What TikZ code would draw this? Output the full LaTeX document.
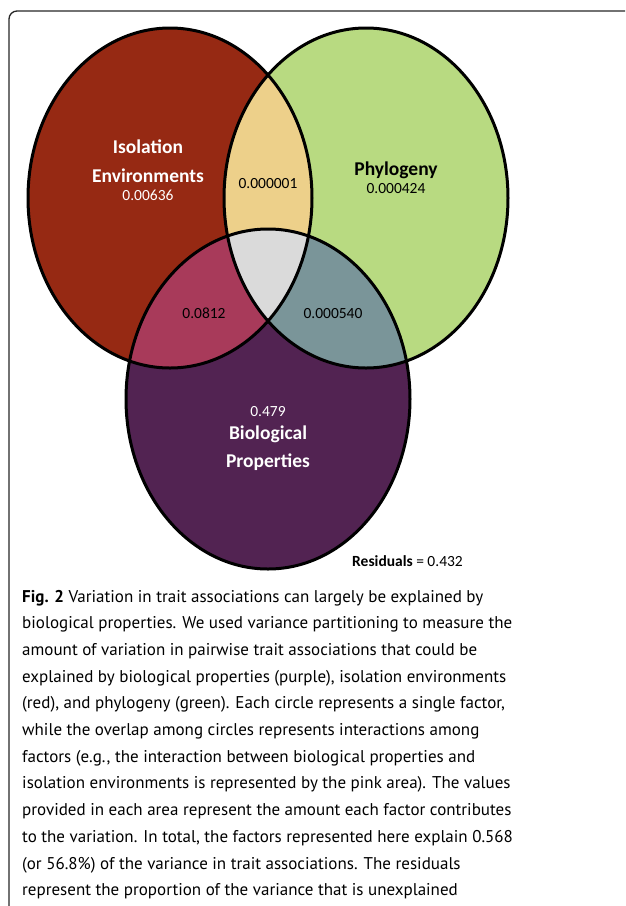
\documentclass[tikz,border=0pt]{standalone}
\usepackage{fontspec}
\setmainfont{Carlito}
\newfontfamily\capfont{PT Sans}
\usetikzlibrary{positioning}

\definecolor{isored}{RGB}{150,41,19}
\definecolor{phygreen}{RGB}{184,218,129}
\definecolor{biopurple}{RGB}{82,35,82}
\definecolor{isophy}{RGB}{237,208,138}
\definecolor{isobio}{RGB}{168,58,90}
\definecolor{phybio}{RGB}{122,149,153}
\definecolor{allthree}{RGB}{218,218,218}

% the three sets
\def\isoset{(170,198) ellipse [x radius=142, y radius=170]}
\def\physet{(366,198) ellipse [x radius=142, y radius=170]}
\def\bioset{(268,399) ellipse [x radius=142, y radius=170]}

\begin{document}
\begin{tikzpicture}[x=1pt,y=-1pt,
  setname/.style={font=\fontsize{19.5}{22}\selectfont\bfseries, anchor=base},
  setval/.style={font=\fontsize{15.5}{18}\selectfont, anchor=base},
  capline/.style={font=\capfont\fontsize{17}{20}\selectfont, anchor=base west, inner sep=0pt},
  outline/.style={line width=3pt}]
\useasboundingbox (0,0) rectangle (625,906);
\begin{scope}
\clip (0,0) rectangle (625,906);
\draw[line width=1.3pt, rounded corners=8pt, black!85] (9,11) rectangle (660,940);
\end{scope}

% regions
\fill[isored] \isoset;
\fill[phygreen] \physet;
\fill[biopurple] \bioset;
\begin{scope} \clip \isoset; \fill[isophy] \physet; \end{scope}
\begin{scope} \clip \isoset; \fill[isobio] \bioset; \end{scope}
\begin{scope} \clip \physet; \fill[phybio] \bioset; \end{scope}
\begin{scope} \clip \isoset; \clip \physet; \fill[allthree] \bioset; \end{scope}
\draw[outline] \isoset;
\draw[outline] \physet;
\draw[outline] \bioset;

% labels
\node[setname,text=white] (iso1) at (148,153) {Isolation};
\node[setname,text=white] (iso2) at (148,182) {Environments};
\node[setval,text=white] (isoval) at (148,200) {0.00636};
\node[setname] (phy) at (396,175) {Phylogeny};
\node[setval] (phyval) at (396,193) {0.000424};
\node[setval] (isophyval) at (268,188) {0.000001};
\node[setval] (isobioval) at (204,318) {0.0812};
\node[setval] (phybioval) at (333,318) {0.000540};
\node[setval,text=white] (bioval) at (268,416) {0.479};
\node[setname,text=white] (bio1) at (268,439) {Biological};
\node[setname,text=white] (bio2) at (268,467) {Properties};
\node[setval,anchor=base west,inner sep=0pt] (resid) at (352,566) {\textbf{Residuals} = 0.432};

% caption
\foreach \ln [count=\i] in {
  {\textbf{Fig. 2} Variation in trait associations can largely be explained by},
  {biological properties. We used variance partitioning to measure the},
  {amount of variation in pairwise trait associations that could be},
  {explained by biological properties (purple), isolation environments},
  {(red), and phylogeny (green). Each circle represents a single factor,},
  {while the overlap among circles represents interactions among},
  {factors (e.g., the interaction between biological properties and},
  {isolation environments is represented by the pink area). The values},
  {provided in each area represent the amount each factor contributes},
  {to the variation. In total, the factors represented here explain 0.568},
  {(or 56.8\%) of the variance in trait associations. The residuals},
  {represent the proportion of the variance that is unexplained}}
  \node[capline] (cap\i) at (22,{602+(\i-1)*26.7}) {\ln};

\end{tikzpicture}
\end{document}
